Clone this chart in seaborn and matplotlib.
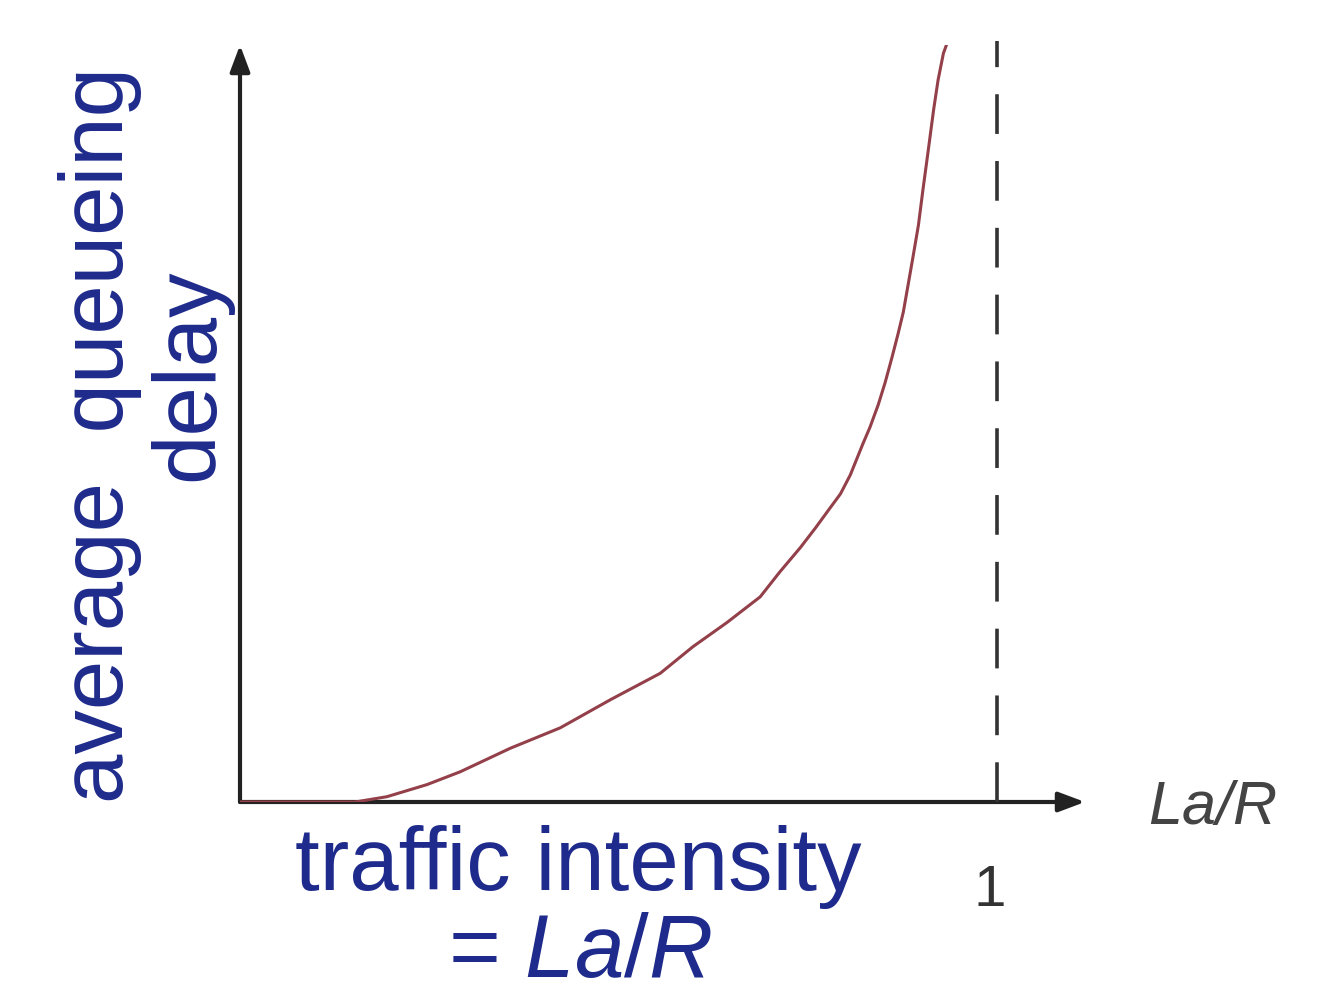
import matplotlib
matplotlib.use("Agg")
import matplotlib.pyplot as plt
import seaborn as sns
import pandas as pd

# traffic intensity (La/R) vs average queueing delay
intensity = [0.0, 0.152, 0.194, 0.247, 0.291, 0.357, 0.423, 0.489, 0.555,
             0.598, 0.643, 0.687, 0.713, 0.740, 0.760, 0.779, 0.793, 0.806,
             0.823, 0.832, 0.843, 0.852, 0.861, 0.869, 0.876, 0.882, 0.889,
             0.896, 0.902, 0.909, 0.916, 0.922, 0.929, 0.933]
delay = [0.0, 0.0, 0.007, 0.023, 0.040, 0.071, 0.098, 0.135, 0.170,
         0.205, 0.237, 0.271, 0.304, 0.336, 0.362, 0.388, 0.407, 0.432,
         0.474, 0.495, 0.525, 0.554, 0.587, 0.618, 0.647, 0.681, 0.721,
         0.762, 0.809, 0.861, 0.914, 0.954, 0.989, 1.0]
x_max = 1.116
asymptote = 1.0

sns.set_style("white")
plt.rcParams['font.family'] = ['Liberation Sans', 'DejaVu Sans']
plt.rcParams['mathtext.fontset'] = 'custom'
plt.rcParams['mathtext.it'] = 'Liberation Sans:italic'
plt.rcParams['mathtext.rm'] = 'Liberation Sans'

navy = "#1f2b8c"
ink = "#333333"

df = pd.DataFrame({"intensity": intensity, "delay": delay})

fig = plt.figure(figsize=(13.26, 10), dpi=100)
ax = fig.add_axes([240 / 1326, 198 / 1000, 845 / 1326, 757 / 1000])

ax.set_xlim(0, x_max)
ax.set_ylim(0, 1)
for s in ax.spines.values():
    s.set_visible(False)

# axes drawn as arrows
arrow = dict(arrowstyle="-|>,head_length=1.6,head_width=0.6", color="#222222",
             lw=3, shrinkA=0, shrinkB=0)
ax.annotate("", xy=(x_max, 0), xytext=(0, 0), arrowprops=arrow,
            annotation_clip=False, zorder=1)
ax.annotate("", xy=(0, 1.0), xytext=(0, 0), arrowprops=arrow,
            annotation_clip=False, zorder=1)

# asymptote at La/R = 1
ax.plot([asymptote, asymptote], [0, 1.005], color=ink, lw=2.6,
        dashes=(11, 7.5), clip_on=False, zorder=2)

sns.lineplot(data=df, x="intensity", y="delay", ax=ax, color="#94404a",
             linewidth=2.2, zorder=4)
ax.set_xticks([])
ax.set_yticks([])
ax.set_xlabel("")
ax.set_ylabel("")

fig.text(100 / 1326, 1 - 435 / 1000, "average  queueing", rotation=90,
         ha="center", va="center", fontsize=64, color=navy)
fig.text(190 / 1326, 1 - 375 / 1000, "delay", rotation=90,
         ha="center", va="center", fontsize=64, color=navy)
fig.text(578 / 1326, 1 - 890 / 1000, "traffic intensity", ha="center",
         va="baseline", fontsize=64, color=navy)
fig.text(580 / 1326, 1 - 977 / 1000, "= $La/R$", ha="center",
         va="baseline", fontsize=64, color=navy)
fig.text(990 / 1326, 1 - 906 / 1000, "1", ha="center", va="baseline",
         fontsize=42, color=ink)
fig.text(1148 / 1326, 1 - 824 / 1000, "La/R", ha="left", va="baseline",
         fontsize=44, color="#444444", style="italic")

fig.savefig("out.png", dpi=100)
